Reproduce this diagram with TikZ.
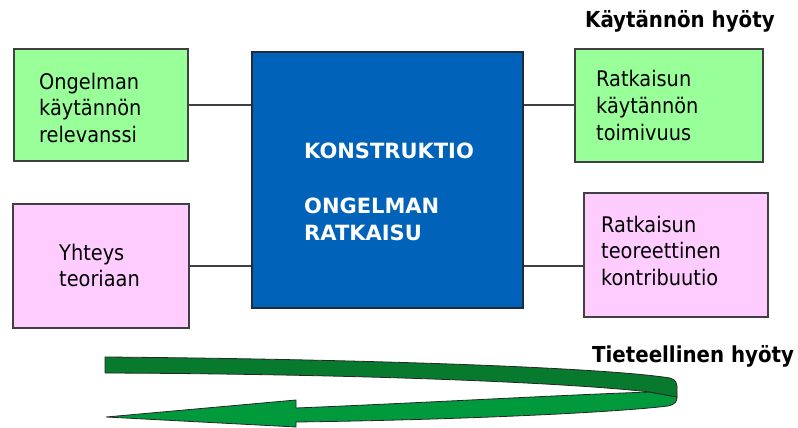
\documentclass[tikz,border=0pt]{standalone}
\usepackage{fontspec}
\setmainfont{DejaVu Sans}
\newfontfamily\condfont{DejaVu Sans Condensed}
\newfontfamily\condbold{DejaVu Sans Condensed Bold}
\definecolor{practgreen}{HTML}{99FF99}
\definecolor{theorypink}{HTML}{FFCCFF}
\definecolor{coreblue}{HTML}{0062B9}
\definecolor{coreedge}{HTML}{1E2C3C}
\definecolor{framegray}{HTML}{404040}
\definecolor{ribbondark}{HTML}{087A2E}
\definecolor{ribbonlight}{HTML}{009A3C}
\begin{document}
\begin{tikzpicture}[x=1pt,y=-1pt,
  panel/.style={draw=framegray, line width=1.1pt, inner sep=0pt},
  boxtext/.style={anchor=base west, inner sep=0pt, text width=170pt, align=left,
    font=\condfont\fontsize{21.5}{26.6}\selectfont},
  coretxt/.style={anchor=base west, inner sep=0pt, text width=220pt, align=left,
    text=white, font=\bfseries\fontsize{21}{27}\selectfont},
  heading/.style={anchor=base west, inner sep=0pt,
    font=\condbold\fontsize{22}{26}\selectfont},
  link/.style={draw=framegray, line width=1.1pt},
  ribbonline/.style={draw=black!85, line width=0.8pt, line join=round}]
\useasboundingbox (0,0) rectangle (798,428);

% panels
\node[panel, fill=practgreen, minimum width=174pt, minimum height=112pt] (relev) at (101,105) {};
\node[panel, fill=practgreen, minimum width=188pt, minimum height=113pt] (toimiv) at (669,105.5) {};
\node[panel, fill=theorypink, minimum width=176pt, minimum height=124pt] (yhteys) at (101,266) {};
\node[panel, fill=theorypink, minimum width=184pt, minimum height=124pt] (kontr) at (676,255) {};
\node[panel, draw=coreedge, fill=coreblue, minimum width=271pt, minimum height=256pt] (core) at (387.5,180) {};

% connectors
\draw[link] (relev.east) -- (relev.east -| core.west);
\draw[link] (core.east |- relev.east) -- (toimiv.west |- relev.east);
\draw[link] (yhteys.east) -- (yhteys.east -| core.west);
\draw[link] (core.east |- yhteys.east) -- (kontr.west |- yhteys.east);

% texts
\node[boxtext] (relevtext) at (39,89) {Ongelman\\käytännön\\relevanssi};
\node[boxtext] (toimivtext) at (596,87) {Ratkaisun\\käytännön\\toimivuus};
\node[boxtext] (yhteystext) at (59,260) {Yhteys\\teoriaan};
\node[boxtext] (kontrtext) at (601,232) {Ratkaisun\\teoreettinen\\kontribuutio};
\node[coretxt] (coretext) at (304,158) {KONSTRUKTIO\\[28pt]ONGELMAN\\RATKAISU};
\node[heading] (practhead) at (585,28) {Käytännön hyöty};
\node[heading] (scihead) at (592,362) {Tieteellinen hyöty};

% looping ribbon arrow: front (light) side with the head
\path[ribbonline, fill=ribbonlight]
  (650,392) .. controls (560,395) and (420,403) .. (296,408)
  -- (296,400) -- (106,417) -- (296,427) -- (296,422)
  .. controls (450,420) and (610,413) .. (668,406)
  .. controls (676,404) and (677,401) .. (677,397)
  -- cycle;
% back (dark) side of the ribbon
\path[ribbonline, fill=ribbondark]
  (105,357) .. controls (350,359) and (600,367) .. (670,378)
  .. controls (676,380) and (677,383) .. (677,386)
  -- (677,397) -- (650,392)
  .. controls (560,382) and (350,374) .. (105,373)
  -- cycle;
\end{tikzpicture}
\end{document}
